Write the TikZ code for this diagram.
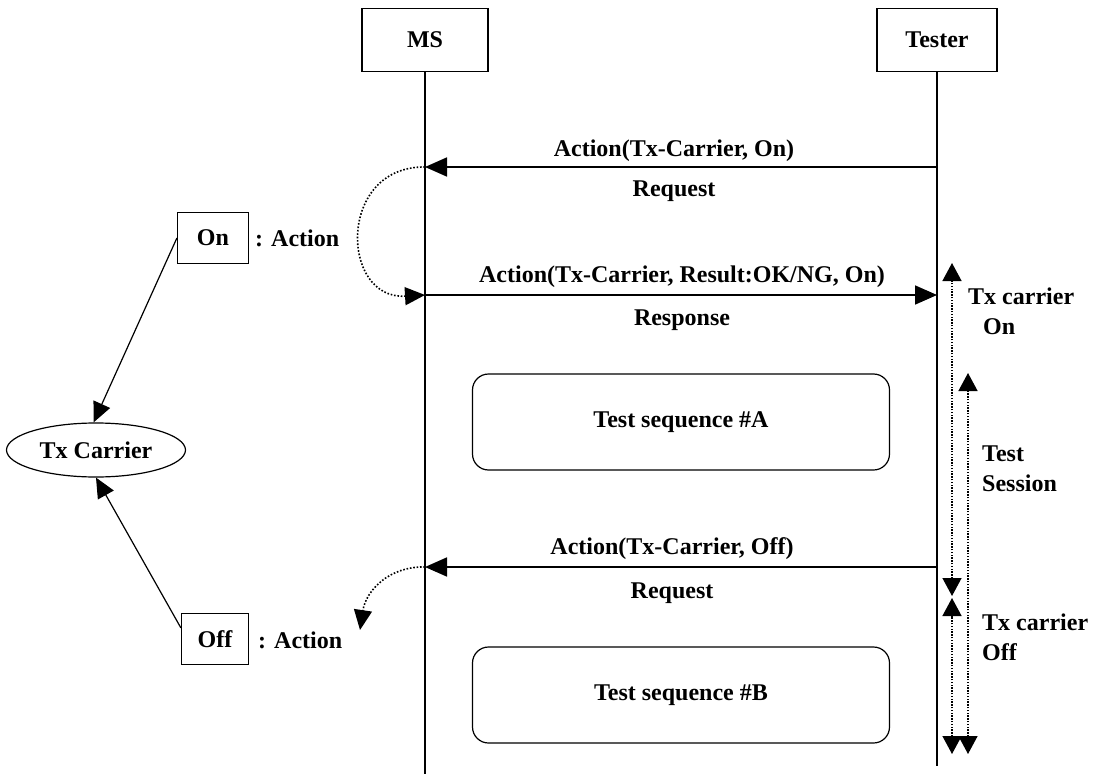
\documentclass[tikz,border=0pt]{standalone}
\usepackage{fontspec}
\setmainfont{Liberation Serif}
\usetikzlibrary{arrows.meta,shapes.geometric}
\begin{document}
\begin{tikzpicture}[x=1pt,y=-1pt,
  txt/.style={font=\fontsize{24}{30}\selectfont\bfseries, inner sep=0pt},
  actor/.style={draw, line width=1.2pt, minimum height=63pt, minimum width=#1, txt},
  statebox/.style={draw, line width=1.2pt, minimum height=51pt, minimum width=#1, txt},
  seqbox/.style={draw, line width=1.2pt, rounded corners=16pt, minimum width=417pt, minimum height=96pt, txt},
  life/.style={line width=1.8pt},
  msg/.style={line width=1.8pt, -{Triangle[length=22pt,width=19pt]}},
  sarrow/.style={line width=1.2pt, -{Triangle[length=20pt,width=18pt]}},
  dcurve/.style={line width=1.6pt, dash pattern=on 1.6pt off 1.8pt, -{Triangle[length=20pt,width=18pt]}},
  span/.style={line width=1.4pt, dash pattern=on 1.4pt off 1.4pt, {Triangle[length=18pt,width=19pt]}-{Triangle[length=18pt,width=19pt]}}
]
\useasboundingbox (0,0) rectangle (1098,776);

% actors
\node[actor=126pt] (ms) at (425,40) {MS};
\node[actor=120pt] (tester) at (937,40) {Tester};
\coordinate (msend) at (425,774);
\coordinate (testerend) at (937,766);
\draw[life] (ms.south) -- (msend);
\draw[life] (tester.south) -- (testerend);

% messages
\coordinate (m1t) at (937,167); \coordinate (m1m) at (425,167);
\coordinate (m2m) at (425,295); \coordinate (m2t) at (937,295);
\coordinate (m3t) at (937,567); \coordinate (m3m) at (425,567);
\draw[msg] (m1t) -- (m1m);
\draw[msg] (m2m) -- (m2t);
\draw[msg] (m3t) -- (m3m);
\node[txt] (l1a) at (674,151) {Action(Tx-Carrier, On)};
\node[txt] (l1b) at (674,191) {Request};
\node[txt] (l2a) at (682,277) {Action(Tx-Carrier, Result:OK/NG, On)};
\node[txt] (l2b) at (682,320) {Response};
\node[txt] (l3a) at (672,549) {Action(Tx-Carrier, Off)};
\node[txt] (l3b) at (672,593) {Request};

% self-action curves
\draw[dcurve] (m1m) .. controls (337,166) and (340,300) .. (m2m);
\coordinate (offtip) at (360,630);
\draw[dcurve] (m3m) .. controls (390,566) and (366,590) .. (offtip);

% test sequences
\node[seqbox] (seqA) at (681,422) {Test sequence \#A};
\node[seqbox] (seqB) at (681,695) {Test sequence \#B};

% left state diagram
\node[draw, ellipse, line width=1.2pt, minimum width=179pt, minimum height=54pt, txt] (tx) at (96,450) {Tx Carrier};
\node[statebox=71pt] (on) at (213,238) {On};
\node[statebox=67pt] (off) at (215,639) {Off};
\node[txt, anchor=west] (onact) at (255,238) {: Action};
\node[txt, anchor=west] (offact) at (258,640) {: Action};
\draw[sarrow] (on.west) -- (tx.95);
\draw[sarrow] (off.162) -- (tx.south);

% spans on the right
\coordinate (onA) at (952,263); \coordinate (onB) at (952,596);
\coordinate (offA) at (952,598); \coordinate (offB) at (952,754);
\coordinate (tsA) at (968,373); \coordinate (tsB) at (968,754);
\draw[span] (onB) -- (onA);
\draw[span] (offB) -- (offA);
\draw[span] (tsB) -- (tsA);
\node[txt, anchor=west, align=left] (txon) at (968,311) {Tx carrier\\\hspace*{15pt}On};
\node[txt, anchor=west, align=left] (tsess) at (982,469) {Test\\Session};
\node[txt, anchor=west, align=left] (txoff) at (982,637) {Tx carrier\\Off};
\end{tikzpicture}
\end{document}
